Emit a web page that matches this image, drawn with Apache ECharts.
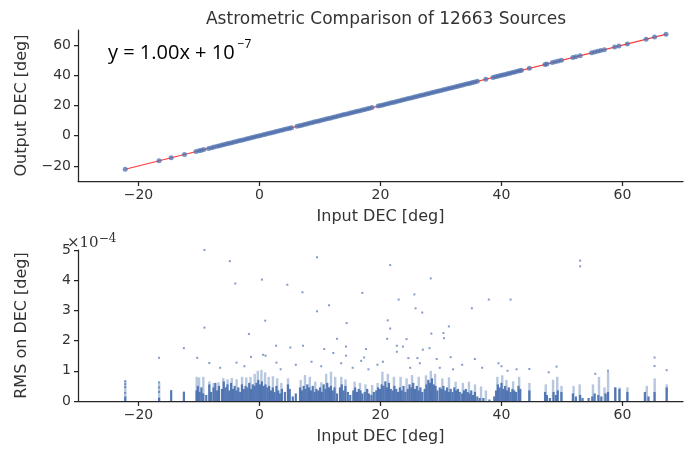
<!DOCTYPE html>
<html>
<head>
<meta charset="utf-8">
<script src="https://cdn.jsdelivr.net/npm/echarts@6.0.0/dist/echarts.min.js"></script>
<style>
html,body{margin:0;padding:0;background:#fff;}
#chart{width:690px;height:449px;}
</style>
</head>
<body>
<div id="chart"></div>
<script>
// ---- Data ----
const titleText = 'Astrometric Comparison of 12663 Sources';
const xTicks = [-20, 0, 20, 40, 60];
const yTicksTop = [-20, 0, 20, 40, 60];
const yTicksBottom = [0, 1, 2, 3, 4, 5];

// Top panel: input vs output DEC (deg)
const inputDec = [-22.2,-16.6,-14.6,-12.4,-10.5,-10.0,-9.6,-9.2,-8.4,-7.9,-7.5,-7.0,-6.6,-6.2,-5.8,-5.4,-5.0,-4.6,-4.2,-3.8,-3.4,-3.0,-2.6,-2.2,-1.8,-1.4,-1.0,-0.6,-0.2,0.2,0.6,1.0,1.4,1.8,2.2,2.6,3.0,3.4,3.8,4.2,4.6,5.0,5.3,6.2,6.6,7.0,7.4,7.8,8.2,8.6,9.0,9.4,9.8,10.2,10.6,11.0,11.4,11.8,12.2,12.6,13.0,13.4,13.8,14.2,14.6,15.0,15.4,15.8,16.2,16.6,17.0,17.4,17.8,18.2,18.6,19.6,20.0,20.4,20.8,21.2,21.6,22.0,22.4,22.8,23.2,23.6,24.0,24.4,24.8,25.2,25.6,26.0,26.4,26.8,27.2,27.6,28.0,28.4,28.8,29.2,29.6,30.0,30.4,30.8,31.2,31.6,32.0,32.4,32.8,33.2,33.6,34.0,34.4,34.8,35.2,35.6,36.0,37.4,38.6,39.0,39.4,39.8,40.2,40.6,41.0,41.4,41.8,42.2,42.6,43.0,43.3,44.6,47.2,47.5,48.4,48.9,49.4,49.9,51.8,52.3,53.0,54.9,55.4,55.9,56.4,57.0,58.7,59.4,60.8,63.9,65.3,67.2];
const outputDec = [-22.2,-16.6,-14.6,-12.4,-10.5,-10.0,-9.6,-9.2,-8.4,-7.9,-7.5,-7.0,-6.6,-6.2,-5.8,-5.4,-5.0,-4.6,-4.2,-3.8,-3.4,-3.0,-2.6,-2.2,-1.8,-1.4,-1.0,-0.6,-0.2,0.2,0.6,1.0,1.4,1.8,2.2,2.6,3.0,3.4,3.8,4.2,4.6,5.0,5.3,6.2,6.6,7.0,7.4,7.8,8.2,8.6,9.0,9.4,9.8,10.2,10.6,11.0,11.4,11.8,12.2,12.6,13.0,13.4,13.8,14.2,14.6,15.0,15.4,15.8,16.2,16.6,17.0,17.4,17.8,18.2,18.6,19.6,20.0,20.4,20.8,21.2,21.6,22.0,22.4,22.8,23.2,23.6,24.0,24.4,24.8,25.2,25.6,26.0,26.4,26.8,27.2,27.6,28.0,28.4,28.8,29.2,29.6,30.0,30.4,30.8,31.2,31.6,32.0,32.4,32.8,33.2,33.6,34.0,34.4,34.8,35.2,35.6,36.0,37.4,38.6,39.0,39.4,39.8,40.2,40.6,41.0,41.4,41.8,42.2,42.6,43.0,43.3,44.6,47.2,47.5,48.4,48.9,49.4,49.9,51.8,52.3,53.0,54.9,55.4,55.9,56.4,57.0,58.7,59.4,60.8,63.9,65.3,67.2];
// Fitted line y = 1.00x + 1e-7 over the data span
const fitX = [-22.2, 67.3];
const fitY = [-22.2, 67.3];

// Bottom panel: RMS on DEC (units of 1e-4 deg)
// dense columns of points: [input DEC, top of dense stack]
const rmsDense = [[-22.2,0.12],[-16.6,0.1],[-14.6,0.36],[-12.5,0.31],[-10.4,0.35],[-10.2,0.5],[-9.9,0.3],[-9.6,0.45],[-9.3,0.25],[-8.8,0.2],[-8.3,0.55],[-8.0,0.3],[-7.6,0.45],[-7.3,0.6],[-7.0,0.35],[-6.7,0.5],[-6.2,0.4],[-5.9,0.65],[-5.6,0.45],[-5.3,0.55],[-5.0,0.35],[-4.7,0.6],[-4.4,0.4],[-4.1,0.5],[-3.8,0.35],[-3.5,0.45],[-3.2,0.3],[-2.9,0.55],[-2.6,0.4],[-2.3,0.5],[-2.0,0.45],[-1.7,0.6],[-1.4,0.4],[-1.1,0.55],[-0.8,0.5],[-0.5,0.6],[-0.2,0.7],[0.1,0.55],[0.4,0.65],[0.7,0.5],[1.0,0.55],[1.3,0.45],[1.6,0.5],[1.9,0.35],[2.2,0.45],[2.5,0.3],[2.8,0.5],[3.1,0.35],[3.4,0.25],[3.7,0.4],[4.2,0.3],[4.7,0.55],[5.0,0.4],[5.5,0.15],[6.0,0.25],[6.7,0.45],[7.0,0.35],[7.3,0.5],[7.6,0.4],[7.9,0.55],[8.2,0.45],[8.5,0.35],[8.8,0.5],[9.1,0.3],[9.4,0.4],[9.7,0.35],[10.0,0.45],[10.3,0.3],[10.6,0.55],[10.9,0.4],[11.2,0.6],[11.5,0.45],[11.8,0.5],[12.1,0.35],[12.4,0.45],[12.8,0.25],[13.3,0.45],[13.6,0.55],[13.9,0.35],[14.2,0.5],[14.6,0.3],[15.0,0.2],[15.5,0.35],[15.8,0.45],[16.1,0.3],[16.4,0.4],[16.7,0.35],[17.0,0.25],[17.4,0.3],[17.8,0.4],[18.1,0.25],[18.5,0.2],[18.9,0.3],[19.3,0.35],[19.6,0.45],[19.9,0.4],[20.2,0.55],[20.5,0.5],[20.8,0.65],[21.1,0.45],[21.4,0.6],[21.7,0.4],[22.0,0.35],[22.3,0.5],[22.6,0.4],[22.9,0.3],[23.2,0.45],[23.5,0.35],[23.8,0.5],[24.1,0.3],[24.5,0.4],[24.8,0.55],[25.1,0.45],[25.4,0.6],[25.7,0.4],[26.0,0.5],[26.3,0.35],[26.6,0.45],[26.9,0.3],[27.3,0.4],[27.6,0.55],[27.9,0.7],[28.2,0.6],[28.5,0.75],[28.8,0.55],[29.1,0.5],[29.4,0.35],[29.8,0.45],[30.1,0.4],[30.4,0.5],[30.7,0.35],[31.0,0.45],[31.3,0.3],[31.6,0.4],[31.9,0.3],[32.2,0.45],[32.5,0.35],[32.8,0.4],[33.1,0.3],[33.5,0.25],[33.8,0.35],[34.1,0.4],[34.4,0.3],[34.7,0.25],[35.0,0.35],[35.3,0.2],[35.6,0.3],[36.0,0.15],[36.4,0.1],[37.0,0.1],[38.0,0.05],[38.8,0.15],[39.1,0.35],[39.4,0.55],[39.7,0.45],[40.0,0.6],[40.3,0.4],[40.6,0.5],[40.9,0.35],[41.2,0.45],[41.5,0.3],[41.8,0.4],[42.1,0.35],[42.4,0.3],[42.8,0.5],[43.1,0.4],[44.6,0.35],[47.2,0.3],[47.5,0.2],[48.0,0.1],[48.6,0.3],[49.0,0.2],[49.3,0.35],[49.9,0.3],[51.8,0.25],[52.3,0.15],[53.0,0.2],[53.4,0.1],[54.4,0.1],[55.0,0.15],[55.4,0.25],[56.0,0.2],[56.5,0.15],[57.2,0.25],[57.6,0.3],[58.8,0.45],[59.5,0.4],[60.8,0.3],[63.7,0.3],[64.3,0.15],[65.3,0.3],[67.3,0.45]];
// sparser columns above the dense stacks: [input DEC, highest point of column]
const rmsSparse = [[-22.2,0.66],[-16.6,0.6],[-10.4,0.8],[-10.0,0.78],[-9.3,0.8],[-8.3,0.65],[-7.6,0.6],[-6.8,0.62],[-6.0,0.76],[-5.3,0.72],[-4.6,0.76],[-3.8,0.72],[-2.9,0.8],[-2.2,0.78],[-1.5,0.8],[-0.8,0.9],[-0.3,1.0],[0.3,1.03],[0.9,0.95],[1.5,0.8],[2.2,0.82],[2.9,0.75],[3.6,0.6],[4.7,0.75],[6.8,0.7],[7.5,0.86],[8.3,0.8],[9.2,0.64],[10.2,0.62],[11.0,0.9],[11.8,0.97],[12.5,0.8],[13.5,0.8],[14.2,0.72],[15.7,0.64],[16.6,0.6],[17.5,0.55],[18.6,0.53],[19.5,0.6],[20.3,0.97],[21.2,0.9],[22.2,0.8],[23.3,0.8],[24.3,0.75],[25.2,0.86],[26.3,0.8],[27.5,0.85],[28.3,1.0],[29.0,0.9],[30.2,0.75],[31.3,0.78],[32.4,0.64],[33.6,0.6],[34.6,0.64],[35.6,0.55],[36.6,0.48],[37.4,0.35],[39.3,0.8],[40.1,0.85],[40.8,0.7],[41.9,0.65],[42.9,0.8],[44.6,0.6],[47.3,0.55],[48.5,0.7],[49.2,0.8],[49.9,0.5],[51.9,0.5],[52.9,0.55],[55.1,0.55],[56.1,0.8],[57.0,0.45],[57.6,0.96],[58.8,0.45],[59.5,0.45],[60.8,0.45],[64.0,0.5],[65.3,0.75],[67.3,0.55]];
// isolated sources: [input DEC, RMS]
const rmsOutliers = [[-22.2,0.13],[-22.2,0.27],[-22.2,0.46],[-22.2,0.56],[-22.2,0.66],[-16.6,0.08],[-16.6,0.3],[-16.6,0.45],[-16.6,0.62],[-16.6,1.43],[-12.5,1.75],[-10.3,1.43],[-9.1,5.0],[-9.1,2.43],[-8.3,1.26],[-4.9,4.63],[-4.0,3.89],[-3.8,1.27],[-1.75,2.22],[-1.4,1.46],[0.4,4.02],[0.94,2.66],[0.6,1.53],[1.0,1.5],[2.75,1.83],[2.8,1.27],[4.6,3.85],[5.1,1.77],[7.1,3.6],[7.2,1.83],[9.5,4.76],[9.5,2.97],[11.5,3.17],[12.8,2.06],[10.7,1.72],[12.2,1.59],[14.4,2.58],[14.3,1.8],[14.3,1.5],[17.0,3.58],[17.6,1.72],[17.3,1.44],[16.8,1.33],[21.6,4.5],[21.2,2.67],[21.6,2.4],[21.1,2.06],[23.0,3.36],[22.7,1.83],[22.7,1.63],[23.7,1.8],[24.3,2.05],[24.6,1.42],[25.6,3.53],[25.8,3.07],[26.9,2.93],[26.1,1.42],[27.0,1.7],[28.1,1.75],[28.3,4.06],[28.4,2.23],[29.3,1.39],[30.4,2.25],[30.5,2.08],[31.3,2.47],[31.6,1.45],[35.1,3.07],[35.6,1.39],[37.9,3.36],[41.5,3.36],[39.5,1.25],[44.6,1.06],[49.1,1.14],[53.0,4.65],[53.0,4.46],[65.3,1.44],[65.3,1.16],[67.3,1.02],[-6.5,1.1],[-2.5,1.15],[3.5,1.05],[6.0,1.2],[8.6,1.3],[10.2,1.15],[13.5,1.25],[15.4,1.1],[18.0,1.05],[19.5,1.2],[20.4,1.3],[24.9,1.1],[26.5,1.25],[29.8,1.1],[32.0,1.05],[33.5,1.2],[36.8,1.1],[40.0,1.15],[41.0,1.0],[42.5,1.05],[47.8,0.95],[55.5,0.9],[57.6,1.0]];

// ---- Chart ----
const blue = '#4C72B0';
const axisColor = '#262626';
const labelColor = '#333333';
const font = 'DejaVu Sans';
const minus = v => String(v).replace('-', '\u2212');

function xAxisCfg(gridIndex) {
  return {
    gridIndex, type: 'value', min: -30, max: 70,
    name: 'Input DEC [deg]', nameLocation: 'middle', nameGap: 28,
    nameTextStyle: { fontFamily: font, fontSize: 16, color: labelColor },
    axisLine: { show: true, onZero: false, lineStyle: { color: axisColor, width: 1.25 } },
    axisTick: { show: true, length: 5, customValues: xTicks, lineStyle: { color: axisColor, width: 1.25 } },
    axisLabel: { customValues: xTicks, margin: 7, fontFamily: font, fontSize: 14, color: labelColor, formatter: minus },
    splitLine: { show: false }
  };
}

const option = {
  animation: false,
  backgroundColor: '#ffffff',
  title: {
    text: titleText, left: 381, top: 6, textAlign: 'center',
    textStyle: { fontFamily: font, fontSize: 17, fontWeight: 'normal', color: labelColor }
  },
  grid: [
    { left: 78, top: 30, width: 605, height: 151 },
    { left: 78, top: 250, width: 605, height: 151 }
  ],
  xAxis: [xAxisCfg(0), xAxisCfg(1)],
  yAxis: [
    {
      gridIndex: 0, type: 'value', min: -30, max: 70,
      name: 'Output DEC [deg]', nameLocation: 'middle', nameGap: 48,
      nameTextStyle: { fontFamily: font, fontSize: 16, color: labelColor },
      axisLine: { show: true, onZero: false, lineStyle: { color: axisColor, width: 1.25 } },
      axisTick: { show: true, length: 4, customValues: yTicksTop, lineStyle: { color: axisColor, width: 1.25 } },
      axisLabel: { customValues: yTicksTop, margin: 7, fontFamily: font, fontSize: 14, color: labelColor, formatter: minus },
      splitLine: { show: false }
    },
    {
      gridIndex: 1, type: 'value', min: 0, max: 5, interval: 1,
      name: 'RMS on DEC [deg]', nameLocation: 'middle', nameGap: 48,
      nameTextStyle: { fontFamily: font, fontSize: 16, color: labelColor },
      axisLine: { show: true, onZero: false, lineStyle: { color: axisColor, width: 1.25 } },
      axisTick: { show: true, length: 4, customValues: yTicksBottom, lineStyle: { color: axisColor, width: 1.25 } },
      axisLabel: { customValues: yTicksBottom, margin: 7, fontFamily: font, fontSize: 14, color: labelColor },
      splitLine: { show: false }
    }
  ],
  graphic: [
    {
      type: 'text', left: 108, top: 39,
      style: {
        text: '{a|y = 1.00x + 10}{s|\u22127}',
        rich: {
          a: { fontFamily: 'Open Sans', fontSize: 20, fill: '#000', lineHeight: 28 },
          s: { fontFamily: 'Open Sans', fontSize: 12, fill: '#000', lineHeight: 28, verticalAlign: 'top', padding: [0, 0, 0, 3] }
        }
      }
    },
    {
      type: 'text', left: 67, top: 233,
      style: {
        text: '{a|\u00d710}{s|\u22124}',
        rich: {
          a: { fontFamily: 'DejaVu Serif', fontSize: 15, fill: '#333', lineHeight: 21 },
          s: { fontFamily: 'DejaVu Serif', fontSize: 12, fill: '#333', lineHeight: 21, verticalAlign: 'top' }
        }
      }
    }
  ],
  series: [
    {
      type: 'line', xAxisIndex: 0, yAxisIndex: 0,
      data: fitX.map((x, i) => [x, fitY[i]]),
      showSymbol: false, lineStyle: { color: '#ff3b3b', width: 1.2 }, z: 1
    },
    {
      type: 'scatter', xAxisIndex: 0, yAxisIndex: 0,
      data: inputDec.map((x, i) => [x, outputDec[i]]),
      symbolSize: 5, itemStyle: { color: blue, opacity: 0.75 }, z: 2
    },
    {
      type: 'bar', xAxisIndex: 1, yAxisIndex: 1,
      data: rmsSparse, barWidth: 2.4, barGap: '-100%',
      itemStyle: { color: 'rgba(76,114,176,0.4)' }, z: 1
    },
    {
      type: 'bar', xAxisIndex: 1, yAxisIndex: 1,
      data: rmsDense, barWidth: 2.2, barGap: '-100%',
      itemStyle: { color: 'rgba(76,114,176,0.95)' }, z: 2
    },
    {
      type: 'scatter', xAxisIndex: 1, yAxisIndex: 1,
      data: rmsOutliers, symbol: 'rect', symbolSize: 2,
      itemStyle: { color: blue, opacity: 0.7 }, z: 3
    }
  ]
};

const chart = echarts.init(document.getElementById('chart'), null, { renderer: 'canvas' });
chart.setOption(option);
</script>
</body>
</html>
